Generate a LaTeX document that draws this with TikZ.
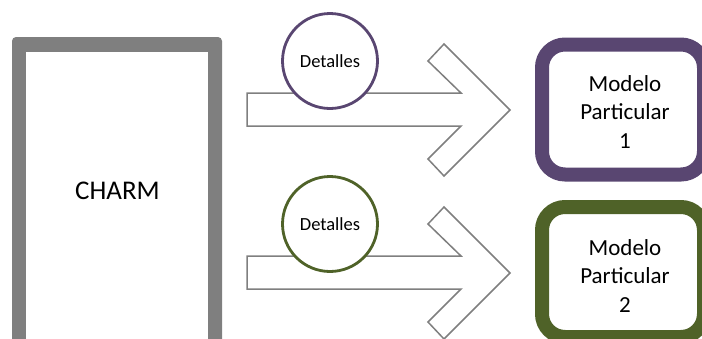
\documentclass[tikz,border=0pt]{standalone}
\usepackage{fontspec}
\setmainfont{Carlito}
\definecolor{boxgray}{RGB}{127,127,127}
\definecolor{mpurple}{RGB}{89,70,113}
\definecolor{mgreen}{RGB}{79,98,40}
\tikzset{
  modelbox/.style={draw=#1, line width=14pt, rounded corners=23pt, fill=white,
    minimum width=162pt, minimum height=130pt, inner sep=0pt},
  modeltext/.style={align=center, inner sep=0pt, font=\fontsize{23}{28.5}\selectfont},
  detcircle/.style={circle, draw=#1, line width=2.8pt, fill=white,
    minimum size=95pt, inner sep=0pt, font=\fontsize{18.5}{22}\selectfont},
  blockarrow/.style={draw=boxgray, line width=1.5pt, fill=white, line join=miter}
}
\begin{document}
\begin{tikzpicture}[x=1pt,y=-1pt]
\useasboundingbox (0,0) rectangle (702,338);
\clip (0,0) rectangle (702,338);
% CHARM block
\fill[boxgray, rounded corners=4pt] (12,37) rectangle (222,360);
\node[fill=white, minimum width=182pt, minimum height=300pt, inner sep=0pt, anchor=north west] (charmbg) at (26,52) {};
\node[font=\fontsize{27}{31}\selectfont] (charm) at (117.5,191) {CHARM};
% arrows
\foreach \dy/\nm in {0/a, 163/b}{
  \begin{scope}[yshift=-\dy pt]
    \draw[blockarrow] (247,93) -- (461,93) -- (428,61) -- (444,44) -- (510,110)
      -- (444,176) -- (428,159) -- (461,126) -- (247,126) -- cycle;
  \end{scope}
}
% circles
\node[detcircle=mpurple] (det1) at (330,61) {Detalles};
\node[detcircle=mgreen] (det2) at (330,224) {Detalles};
% model boxes
\node[modelbox=mpurple] (m1) at (623,109.5) {};
\node[modeltext] (m1t) at (625,112) {Modelo\\Particular\\1};
\node[modelbox=mgreen] (m2) at (623,272) {};
\node[modeltext] (m2t) at (625,276) {Modelo\\Particular\\2};
\end{tikzpicture}
\end{document}
